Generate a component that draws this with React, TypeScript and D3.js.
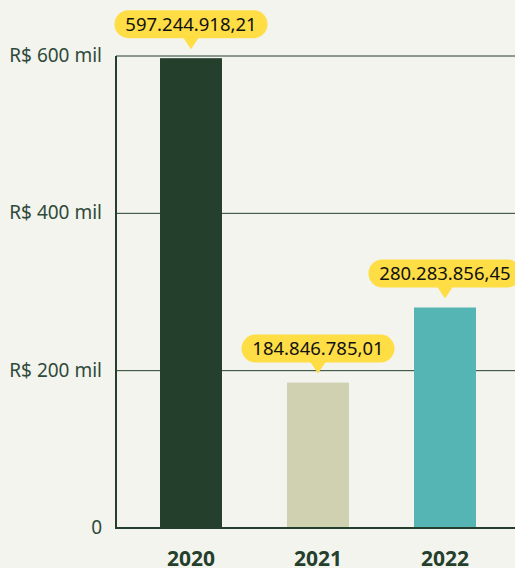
import React from "react";
import * as d3 from "d3";

const years = ["2020", "2021", "2022"];
const values = [597244918.21, 184846785.01, 280283856.45];
const labels = ["597.244.918,21", "184.846.785,01", "280.283.856,45"];
const barColors = ["#253f2d", "#cfd1b1", "#55b5b5"];
const yTicks = [0, 200, 400, 600];
const yTickLabels = ["0", "R$ 200 mil", "R$ 400 mil", "R$ 600 mil"];

const W = 515;
const H = 568;
const FONT = "'Noto Sans', sans-serif";
const DARK = "#253f2d";

export default function App() {
  const x = d3
    .scaleBand<string>()
    .domain(years)
    .range([116, 520])
    .paddingInner(0.512)
    .paddingOuter(0.3465);
  const y = d3.scaleLinear().domain([0, 600]).range([528, 56]);
  const bw = x.bandwidth();
  const boxW = 153;
  const boxH = 28;

  return (
    <div style={{ position: "fixed", left: 0, top: 0 }}>
      <svg width={W} height={H} style={{ display: "block" }}>
        <rect x={0} y={0} width={W} height={H} fill="#f3f4ee" />
        {yTicks.map((t, i) => (
          <g key={t}>
            {t > 0 && (
              <line x1={116} x2={W} y1={y(t)} y2={y(t)} stroke={DARK} strokeWidth={1} />
            )}
            <text
              x={102}
              y={y(t)}
              dy="0.32em"
              textAnchor="end"
              fontFamily={FONT}
              fontSize={19}
              fill="#2f4a3a"
            >
              {yTickLabels[i]}
            </text>
          </g>
        ))}
        {years.map((yr, i) => {
          const v = values[i] / 1e6;
          const bx = x(yr)!;
          const cx = bx + bw / 2;
          const top = y(v);
          const tip = top - 9;
          const boxBottom = tip - 11;
          return (
            <g key={yr}>
              <rect x={bx} y={top} width={bw} height={528 - top} fill={barColors[i]} />
              <rect
                x={cx - boxW / 2}
                y={boxBottom - boxH}
                width={boxW}
                height={boxH}
                rx={14}
                fill="#fedd45"
              />
              <path
                d={`M${cx - 8},${boxBottom - 1} L${cx + 8},${boxBottom - 1} L${cx},${tip} Z`}
                fill="#fedd45"
              />
              <text
                x={cx}
                y={boxBottom - boxH / 2}
                dy="0.35em"
                textAnchor="middle"
                fontFamily={FONT}
                fontSize={18.5}
                fill="#111"
              >
                {labels[i]}
              </text>
              <text
                x={cx}
                y={559}
                dy="0.35em"
                textAnchor="middle"
                fontFamily={FONT}
                fontWeight="bold"
                fontSize={21}
                fill={DARK}
              >
                {yr}
              </text>
            </g>
          );
        })}
        <line x1={116} x2={116} y1={56} y2={529} stroke={DARK} strokeWidth={2} />
        <line x1={115} x2={W} y1={528} y2={528} stroke={DARK} strokeWidth={2} />
      </svg>
    </div>
  );
}
